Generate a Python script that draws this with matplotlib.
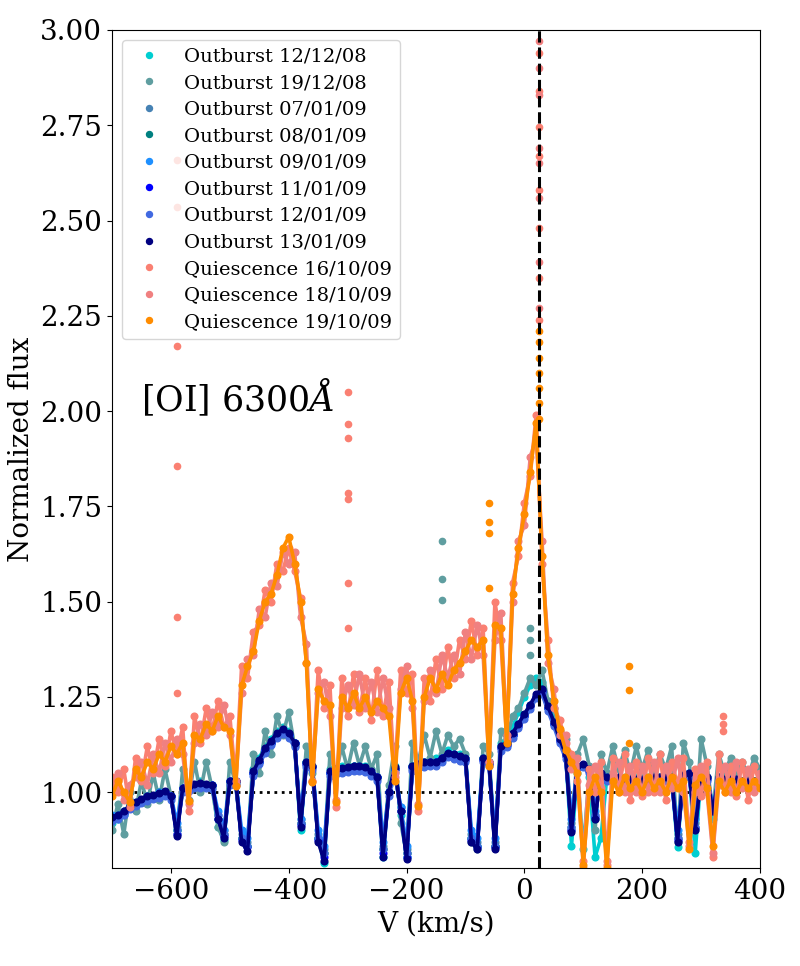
import numpy as np
import matplotlib
matplotlib.use("Agg")
import matplotlib.pyplot as plt

plt.rcParams['font.family'] = 'serif'
plt.rcParams['mathtext.fontset'] = 'dejavuserif'

# velocity grid (km/s), one sample every 10 km/s
vel = np.arange(-700, 401, 10)

labels = ["Outburst 12/12/08", "Outburst 19/12/08", "Outburst 07/01/09", "Outburst 08/01/09",
          "Outburst 09/01/09", "Outburst 11/01/09", "Outburst 12/01/09", "Outburst 13/01/09",
          "Quiescence 16/10/09", "Quiescence 18/10/09", "Quiescence 19/10/09"]
colors = ["darkturquoise", "cadetblue", "steelblue", "teal", "dodgerblue", "blue",
          "royalblue", "navy", "salmon", "lightcoral", "darkorange"]

flux_121208 = [0.92, 0.93, 0.94, 0.96, 0.97, 0.98, 0.99, 0.99, 1.00, 1.00,
               0.99, 0.90, 1.01, 1.02, 1.02, 1.03, 1.02, 1.02, 0.91, 0.875,
               1.03, 1.03, 0.88, 0.86, 1.06, 1.09, 1.12, 1.14, 1.16, 1.17,
               1.16, 1.13, 0.90, 1.08, 1.07, 0.88, 0.815, 1.06, 1.06, 1.07,
               1.07, 1.07, 1.07, 1.07, 1.06, 1.04, 0.83, 1.00, 1.07, 0.94,
               0.83, 1.07, 1.08, 1.08, 1.08, 1.09, 1.09, 1.11, 1.10, 1.10,
               1.09, 0.88, 0.86, 1.09, 1.08, 0.86, 1.13, 1.14, 1.17, 1.21,
               1.25, 1.28, 1.30, 1.29, 1.24, 1.19, 1.14, 1.10, 0.86, 1.05,
               0.85, 1.04, 0.83, 0.88, 1.04, 1.04, 1.04, 1.04, 1.04, 1.04,
               1.04, 1.04, 1.04, 1.04, 1.04, 1.04, 0.855, 1.05, 1.05, 0.84,
               1.05, 1.04, 0.93, 1.04, 1.04, 1.04, 1.04, 1.03, 1.03, 1.03,
               1.03]
flux_191208 = [0.90, 0.97, 0.89, 1.00, 0.95, 1.03, 0.97, 1.05, 0.98, 1.06,
               0.99, 0.89, 1.06, 0.98, 1.08, 1.00, 1.08, 1.01, 0.91, 0.87,
               1.08, 1.02, 0.88, 0.86, 1.10, 1.05, 1.16, 1.10, 1.20, 1.15,
               1.21, 1.12, 0.92, 1.12, 1.05, 0.88, 0.84, 1.10, 1.05, 1.12,
               1.06, 1.13, 1.07, 1.12, 1.06, 1.10, 0.85, 1.02, 1.12, 0.92,
               0.84, 1.13, 1.08, 1.15, 1.09, 1.16, 1.10, 1.15, 1.12, 1.14,
               1.10, 0.87, 0.85, 1.12, 1.10, 0.86, 1.16, 1.14, 1.20, 1.22,
               1.26, 1.30, 1.28, 1.32, 1.24, 1.22, 1.16, 1.14, 0.90, 1.10,
               1.14, 1.07, 0.90, 1.10, 1.05, 1.12, 1.06, 1.11, 1.05, 1.12,
               1.06, 1.11, 1.05, 1.10, 1.06, 1.12, 0.87, 1.13, 1.08, 0.90,
               1.14, 1.07, 0.95, 1.10, 1.05, 1.09, 1.04, 1.08, 1.04, 1.09,
               1.06]
flux_070109 = [0.93, 0.935, 0.945, 0.96, 0.97, 0.978, 0.985, 0.99, 0.993, 0.997,
               0.985, 0.91, 1.005, 1.01, 1.017, 1.02, 1.017, 1.015, 0.94, 0.90,
               1.025, 1.025, 0.89, 0.87, 1.05, 1.08, 1.11, 1.13, 1.15, 1.16,
               1.15, 1.125, 0.93, 1.072, 1.064, 0.89, 0.85, 1.05, 1.055, 1.058,
               1.06, 1.062, 1.062, 1.06, 1.05, 1.035, 0.86, 1.00, 1.06, 0.96,
               0.85, 1.062, 1.07, 1.072, 1.075, 1.075, 1.085, 1.098, 1.094, 1.09,
               1.085, 0.89, 0.87, 1.085, 1.075, 0.87, 1.115, 1.125, 1.15, 1.175,
               1.20, 1.225, 1.252, 1.264, 1.22, 1.18, 1.135, 1.095, 0.92, 1.065,
               1.07, 1.055, 0.94, 1.045, 1.035, 1.035, 1.035, 1.03, 1.03, 1.03,
               1.03, 1.03, 1.035, 1.035, 1.035, 1.035, 0.89, 1.04, 1.045, 0.92,
               1.04, 1.035, 0.96, 1.035, 1.03, 1.03, 1.03, 1.025, 1.025, 1.025,
               1.025]
flux_080109 = [0.93, 0.94, 0.95, 0.96, 0.97, 0.98, 0.99, 0.99, 1.00, 1.00,
               0.99, 0.90, 1.01, 1.01, 1.02, 1.02, 1.02, 1.02, 0.93, 0.89,
               1.03, 1.03, 0.88, 0.86, 1.05, 1.08, 1.11, 1.13, 1.15, 1.16,
               1.15, 1.13, 0.92, 1.08, 1.07, 0.88, 0.84, 1.05, 1.06, 1.06,
               1.06, 1.07, 1.07, 1.06, 1.05, 1.04, 0.85, 1.00, 1.06, 0.95,
               0.84, 1.07, 1.07, 1.08, 1.08, 1.08, 1.09, 1.10, 1.10, 1.09,
               1.09, 0.88, 0.86, 1.09, 1.08, 0.86, 1.12, 1.13, 1.15, 1.18,
               1.20, 1.23, 1.25, 1.27, 1.22, 1.18, 1.14, 1.10, 0.91, 1.07,
               1.07, 1.06, 0.93, 1.05, 1.04, 1.04, 1.04, 1.03, 1.03, 1.03,
               1.03, 1.03, 1.04, 1.04, 1.04, 1.04, 0.88, 1.04, 1.05, 0.91,
               1.04, 1.04, 0.95, 1.04, 1.03, 1.03, 1.03, 1.03, 1.03, 1.03,
               1.03]
flux_090109 = [0.94, 0.94, 0.95, 0.965, 0.975, 0.98, 0.99, 0.99, 1.00, 1.00,
               0.99, 0.92, 1.01, 1.01, 1.02, 1.02, 1.02, 1.02, 0.95, 0.90,
               1.03, 1.03, 0.90, 0.88, 1.05, 1.08, 1.11, 1.13, 1.15, 1.16,
               1.15, 1.13, 0.93, 1.08, 1.07, 0.90, 0.86, 1.05, 1.06, 1.06,
               1.06, 1.07, 1.07, 1.06, 1.05, 1.04, 0.87, 1.00, 1.06, 0.96,
               0.86, 1.07, 1.07, 1.08, 1.08, 1.08, 1.09, 1.10, 1.10, 1.09,
               1.09, 0.90, 0.88, 1.09, 1.08, 0.88, 1.12, 1.13, 1.15, 1.18,
               1.20, 1.23, 1.25, 1.26, 1.22, 1.18, 1.14, 1.10, 0.93, 1.07,
               1.07, 1.06, 0.95, 1.05, 1.04, 1.04, 1.04, 1.03, 1.03, 1.03,
               1.03, 1.03, 1.04, 1.04, 1.04, 1.04, 0.90, 1.04, 1.05, 0.93,
               1.04, 1.04, 0.96, 1.04, 1.03, 1.03, 1.03, 1.03, 1.03, 1.03,
               1.03]
flux_110109 = [0.93, 0.935, 0.945, 0.96, 0.97, 0.98, 0.985, 0.99, 0.995, 1.00,
               0.99, 0.89, 1.01, 1.01, 1.02, 1.02, 1.02, 1.02, 0.93, 0.885,
               1.03, 1.03, 0.875, 0.855, 1.05, 1.08, 1.11, 1.13, 1.15, 1.16,
               1.15, 1.13, 0.915, 1.075, 1.065, 0.875, 0.83, 1.05, 1.06, 1.06,
               1.06, 1.065, 1.065, 1.06, 1.05, 1.04, 0.84, 1.00, 1.06, 0.95,
               0.83, 1.065, 1.07, 1.075, 1.08, 1.08, 1.09, 1.10, 1.095, 1.09,
               1.085, 0.875, 0.855, 1.085, 1.075, 0.855, 1.115, 1.125, 1.15, 1.175,
               1.20, 1.225, 1.25, 1.265, 1.22, 1.18, 1.135, 1.095, 0.90, 1.065,
               1.07, 1.055, 0.935, 1.045, 1.035, 1.035, 1.035, 1.03, 1.03, 1.03,
               1.03, 1.03, 1.035, 1.035, 1.035, 1.035, 0.875, 1.04, 1.045, 0.905,
               1.04, 1.035, 0.95, 1.035, 1.03, 1.03, 1.03, 1.025, 1.025, 1.025,
               1.025]
flux_120109 = [0.925, 0.93, 0.94, 0.955, 0.965, 0.972, 0.978, 0.982, 0.986, 0.99,
               0.98, 0.90, 1.00, 1.003, 1.01, 1.012, 1.01, 1.008, 0.94, 0.89,
               1.018, 1.018, 0.88, 0.86, 1.043, 1.073, 1.103, 1.123, 1.143, 1.153,
               1.143, 1.118, 0.92, 1.066, 1.058, 0.88, 0.84, 1.043, 1.048, 1.051,
               1.054, 1.056, 1.056, 1.053, 1.043, 1.03, 0.85, 0.99, 1.053, 0.95,
               0.84, 1.056, 1.063, 1.066, 1.068, 1.068, 1.078, 1.092, 1.088, 1.083,
               1.078, 0.88, 0.86, 1.078, 1.068, 0.86, 1.108, 1.118, 1.143, 1.168,
               1.193, 1.218, 1.246, 1.258, 1.213, 1.173, 1.128, 1.088, 0.91, 1.06,
               1.065, 1.05, 0.94, 1.04, 1.03, 1.03, 1.03, 1.025, 1.025, 1.025,
               1.025, 1.025, 1.03, 1.03, 1.03, 1.03, 0.88, 1.035, 1.04, 0.91,
               1.035, 1.03, 0.955, 1.03, 1.025, 1.025, 1.025, 1.02, 1.02, 1.02,
               1.02]
flux_130109 = [0.935, 0.94, 0.95, 0.965, 0.975, 0.983, 0.99, 0.993, 0.998, 1.002,
               0.99, 0.885, 1.012, 1.015, 1.022, 1.024, 1.022, 1.02, 0.93, 0.88,
               1.03, 1.03, 0.87, 0.845, 1.055, 1.085, 1.115, 1.135, 1.155, 1.165,
               1.155, 1.13, 0.91, 1.078, 1.07, 0.87, 0.82, 1.055, 1.06, 1.063,
               1.066, 1.068, 1.068, 1.065, 1.055, 1.04, 0.83, 1.00, 1.065, 0.95,
               0.825, 1.068, 1.075, 1.078, 1.08, 1.08, 1.09, 1.104, 1.10, 1.095,
               1.09, 0.87, 0.85, 1.09, 1.08, 0.85, 1.12, 1.13, 1.155, 1.18,
               1.205, 1.23, 1.258, 1.27, 1.225, 1.185, 1.14, 1.10, 0.895, 1.07,
               1.075, 1.06, 0.93, 1.05, 1.04, 1.04, 1.04, 1.035, 1.035, 1.035,
               1.035, 1.035, 1.04, 1.04, 1.04, 1.04, 0.87, 1.045, 1.05, 0.90,
               1.045, 1.04, 0.95, 1.04, 1.035, 1.035, 1.035, 1.03, 1.03, 1.03,
               1.03]
flux_161009 = [1.04, 1.00, 1.06, 0.96, 1.09, 1.03, 1.12, 1.05, 1.14, 1.07,
               1.16, 1.10, 1.17, 0.95, 1.20, 1.13, 1.22, 1.16, 1.24, 1.17,
               1.20, 1.03, 1.33, 1.30, 1.42, 1.44, 1.53, 1.50, 1.60, 1.58,
               1.64, 1.58, 1.51, 1.34, 1.03, 1.32, 1.22, 1.28, 0.96, 1.30,
               1.20, 1.31, 1.21, 1.30, 1.19, 1.32, 1.20, 1.29, 1.04, 1.32,
               1.26, 1.31, 0.95, 1.30, 1.24, 1.35, 1.27, 1.38, 1.30, 1.40,
               1.35, 1.45, 1.36, 1.43, 1.08, 1.50, 1.40, 1.14, 1.55, 1.62,
               1.76, 1.83, 1.99, 1.60, 1.40, 1.22, 1.19, 1.13, 1.10, 1.03,
               0.82, 1.06, 1.00, 1.08, 0.81, 1.09, 1.00, 1.10, 0.98, 1.08,
               0.99, 1.09, 1.00, 1.10, 0.98, 1.08, 1.02, 1.09, 0.87, 1.06,
               0.99, 1.08, 0.83, 1.10, 1.00, 1.07, 0.99, 1.08, 0.98, 1.07,
               1.02]
flux_181009 = [1.01, 1.05, 0.98, 1.02, 1.04, 1.08, 1.02, 1.10, 1.05, 1.13,
               1.08, 1.14, 1.10, 0.97, 1.13, 1.18, 1.15, 1.21, 1.17, 1.23,
               1.15, 1.02, 1.26, 1.35, 1.36, 1.48, 1.46, 1.55, 1.54, 1.63,
               1.60, 1.63, 1.46, 1.39, 1.03, 1.26, 1.29, 1.20, 0.98, 1.22,
               1.28, 1.23, 1.31, 1.22, 1.29, 1.21, 1.30, 1.22, 1.05, 1.27,
               1.33, 1.22, 0.97, 1.24, 1.32, 1.26, 1.36, 1.30, 1.36, 1.31,
               1.42, 1.35, 1.44, 1.36, 1.08, 1.40, 1.47, 1.15, 1.50, 1.66,
               1.70, 1.88, 1.93, 1.66, 1.34, 1.27, 1.15, 1.15, 1.06, 1.09,
               0.80, 1.02, 1.07, 1.01, 0.82, 1.05, 1.08, 1.00, 1.07, 1.00,
               1.07, 1.00, 1.08, 1.00, 1.07, 1.01, 1.09, 1.00, 0.86, 1.00,
               1.07, 1.00, 0.84, 1.02, 1.07, 1.00, 1.08, 1.01, 1.06, 1.00,
               1.05]
flux_191009 = [0.99, 1.03, 1.00, 0.975, 1.06, 1.04, 1.08, 1.06, 1.10, 1.08,
               1.12, 1.10, 1.13, 0.976, 1.15, 1.14, 1.18, 1.16, 1.20, 1.17,
               1.16, 1.015, 1.28, 1.33, 1.37, 1.45, 1.50, 1.52, 1.57, 1.64,
               1.67, 1.60, 1.50, 1.34, 1.026, 1.27, 1.24, 1.23, 0.975, 1.25,
               1.22, 1.26, 1.22, 1.25, 1.21, 1.24, 1.22, 1.20, 1.03, 1.26,
               1.30, 1.24, 0.965, 1.25, 1.30, 1.27, 1.31, 1.28, 1.32, 1.34,
               1.37, 1.40, 1.38, 1.40, 1.07, 1.44, 1.43, 1.13, 1.52, 1.64,
               1.73, 1.84, 1.97, 1.62, 1.36, 1.24, 1.165, 1.11, 1.08, 1.05,
               0.81, 1.00, 1.04, 1.00, 0.80, 1.03, 1.00, 1.04, 1.01, 1.03,
               1.00, 1.04, 1.01, 1.03, 1.00, 1.04, 1.01, 1.03, 0.85, 1.02,
               1.04, 1.01, 0.86, 1.03, 1.00, 1.03, 1.00, 1.03, 1.01, 1.03,
               1.01]

# isolated outlier columns (single velocity, several pixels)
spike_v_191208 = [-140, -140, -140, 10, 10, 10]
spike_f_191208 = [1.505, 1.56, 1.66, 1.36, 1.40, 1.43]
spike_v_161009 = [-590, -590, -590, -590, -590, -590, -300, -300, -300, -300, -300, -300, -300,
                  25, 25, 25, 25, 25, 25, 25, 25, 337, 337, 337]
spike_f_161009 = [1.26, 1.46, 1.855, 2.17, 2.535, 2.66, 1.43, 1.55, 1.77, 1.785, 1.93, 1.965, 2.05,
                  2.24, 2.35, 2.48, 2.58, 2.67, 2.745, 2.84, 2.94, 1.16, 1.18, 1.20]
spike_v_181009 = [25, 25, 25, 25, 25, 25, 25, 25]
spike_f_181009 = [2.27, 2.39, 2.56, 2.65, 2.69, 2.83, 2.90, 2.97]
spike_v_191009 = [25, 25, 25, 25, 25, 25, 25, -60, -60, -60, -60, 178, 178, 178]
spike_f_191009 = [1.98, 2.02, 2.06, 2.10, 2.14, 2.18, 2.21, 1.535, 1.68, 1.71, 1.76, 1.13, 1.267, 1.33]

fluxes = [flux_121208, flux_191208, flux_070109, flux_080109, flux_090109, flux_110109,
          flux_120109, flux_130109, flux_161009, flux_181009, flux_191009]
spikes = {1: (spike_v_191208, spike_f_191208), 8: (spike_v_161009, spike_f_161009),
          9: (spike_v_181009, spike_f_181009), 10: (spike_v_191009, spike_f_191009)}

fig, ax = plt.subplots(figsize=(8, 9.66), dpi=100)
fig.subplots_adjust(left=0.14, right=0.95, top=0.969, bottom=0.101)

ax.axhline(1.0, color='k', ls=':', lw=2, zorder=1)
ax.axvline(25, color='k', ls='--', lw=2.2, zorder=3)

for i, (f, c, lab) in enumerate(zip(fluxes, colors, labels)):
    ax.plot(vel, f, '-', color=c, lw=2.6, zorder=2)
    ax.plot(vel, f, 'o', color=c, ms=4.8, label=lab, zorder=2)
    if i in spikes:
        sv, sf = spikes[i]
        ax.plot(sv, sf, 'o', color=c, ms=4.5, zorder=2)

ax.text(-650, 2.0, r'[OI] 6300$\AA$', fontsize=25)

ax.set_xlim(-700, 400)
ax.set_ylim(0.8, 3.0)
ax.set_xlabel('V (km/s)', fontsize=20)
ax.set_ylabel('Normalized flux', fontsize=20)
ax.tick_params(labelsize=20)
ax.legend(loc='upper left', fontsize=14, labelspacing=0.44, markerscale=0.9)

plt.savefig('out.png')
